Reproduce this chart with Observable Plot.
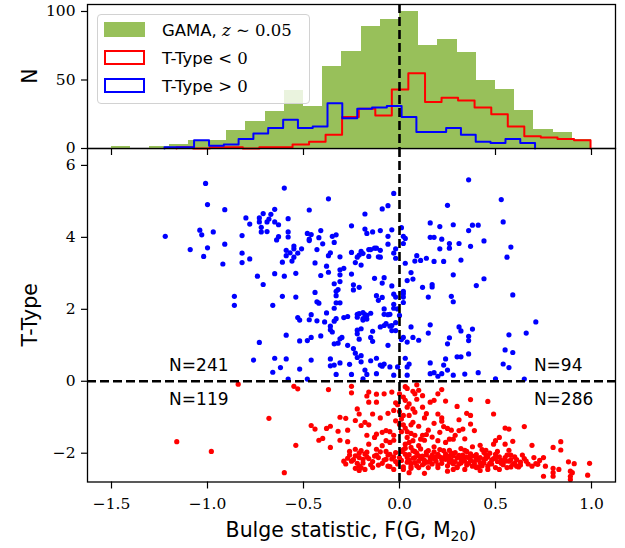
<!DOCTYPE html>
<html><head><meta charset="utf-8">
<script src="https://cdn.jsdelivr.net/npm/d3@7"></script>
<script src="https://cdn.jsdelivr.net/npm/@observablehq/plot@0.6"></script>
<style>
body{margin:0;background:#fff;}
#chart{position:relative;width:625px;height:548px;overflow:hidden;}
#chart svg{position:absolute;left:0;overflow:visible;}
.legend{position:absolute;left:97px;top:14px;width:213px;height:90px;border:1px solid #d2d2d2;border-radius:4px;background:rgba(255,255,255,0.8);box-sizing:border-box;font-family:"DejaVu Sans";font-size:16.5px;color:#000;}
.legend .patch{position:absolute;left:6px;width:41px;height:15px;box-sizing:border-box;}
.legend .lab{position:absolute;left:64px;line-height:20px;white-space:nowrap;}
.legend .m{font-family:"DejaVu Serif";}
.legend .mi{font-family:"DejaVu Serif";font-style:italic;}
</style></head>
<body><div id="chart"></div>
<script>
// ---------------- data ----------------
const xTicks = [-1.5, -1.0, -0.5, 0.0, 0.5, 1.0];
const nTicks = [0, 50, 100];
const tTicks = [-2, 0, 2, 4, 6];

// GAMA histogram (bins of 0.1 from -1.5 to 1.0)
const gamaEdges = [-1.5,-1.4,-1.3,-1.2,-1.1,-1.0,-0.9,-0.8,-0.7,-0.6,-0.5,-0.4,-0.3,-0.2,-0.1,0.0,0.1,0.2,0.3,0.4,0.5,0.6,0.7,0.8,0.9,1.0];
const gamaCounts = [1.2,0,1.2,3,6,6,13.4,19.5,26.8,42,30.9,60.1,71,89.3,94.4,100.2,75.4,79.8,70.3,49.9,43,28,14.1,11.9,6.6];

// T-Type < 0 histogram (25 bins)
const redEdges = [-1.161,-1.075,-0.988,-0.902,-0.816,-0.730,-0.643,-0.557,-0.471,-0.385,-0.299,-0.212,-0.126,-0.040,0.046,0.133,0.219,0.305,0.391,0.478,0.564,0.650,0.736,0.823,0.909,0.995];
const redCounts = [1,0,1,1,0,1,1,3,5,10,23,29,24,43,55,34,37,35,30,25,16,9,8,7,6];

// T-Type > 0 histogram (25 bins)
const blueEdges = [-1.224,-1.147,-1.070,-0.992,-0.915,-0.838,-0.761,-0.684,-0.606,-0.529,-0.452,-0.375,-0.298,-0.220,-0.143,-0.066,0.011,0.088,0.166,0.243,0.320,0.397,0.474,0.552,0.629,0.706];
const blueCounts = [1,1,6,2,3,7,11,15,21,15,16,33,22,29,30,31,23,12,12,15,10,5,4,7,4];

// galaxies with T-Type > 0 : [F(G,M20), T-Type]
const blueGalaxies = [
[-1.01,5.50],[-0.60,5.37],[-0.37,5.07],[-0.03,5.22],[0.36,5.60],[0.53,5.05],[-1.00,4.91],[-0.91,4.77],[-0.65,4.78],[-0.71,4.66],
[-0.67,4.64],[-0.80,4.54],[-0.73,4.54],[-0.68,4.51],[-0.73,4.43],[-0.78,4.37],[-0.69,4.43],[-0.65,4.43],[-0.63,4.35],[-0.58,4.52],
[-0.47,4.76],[-0.18,4.65],[-0.09,4.79],[-0.06,4.88],[0.25,4.89],[0.54,4.43],[0.16,4.40],[0.21,4.30],[0.28,4.35],[0.38,4.34],
[0.41,4.34],[0.36,4.19],[-1.22,4.03],[-1.04,4.20],[-1.03,4.07],[-0.97,4.15],[-0.82,4.05],[-0.72,4.28],[-0.72,4.15],[-0.69,4.16],
[-0.63,4.02],[-0.64,3.93],[-0.58,4.15],[-0.58,4.01],[-0.48,4.11],[-0.46,4.08],[-0.47,3.95],[-0.47,3.91],[-0.41,4.19],[-0.42,3.99],
[-0.35,4.03],[-0.33,4.07],[-0.34,3.86],[-0.40,3.82],[-0.25,4.32],[-0.18,4.23],[-0.17,4.11],[-0.14,4.15],[-0.10,4.19],[-0.04,4.21],
[-0.06,4.03],[-0.06,3.81],[0.01,4.27],[0.02,4.03],[0.03,3.97],[0.02,3.83],[0.16,4.00],[0.18,4.00],[0.22,3.95],[0.26,3.83],
[0.31,3.83],[0.21,3.68],[0.26,3.70],[0.37,3.75],[0.44,3.90],[0.58,3.73],[0.56,3.45],[0.59,2.40],[0.44,2.85],[0.40,2.66],
[-1.09,3.66],[-1.00,3.71],[-1.02,3.47],[-0.91,3.81],[-0.92,3.26],[-0.82,3.56],[-0.82,3.30],[-0.78,3.40],[-0.61,3.31],[-0.59,3.64],
[-0.55,3.76],[-0.55,3.68],[-0.59,3.49],[-0.57,3.57],[-0.56,3.34],[-0.55,3.45],[-0.53,3.56],[-0.51,3.68],[-0.44,3.29],[-0.43,3.66],
[-0.37,3.49],[-0.36,3.57],[-0.31,3.46],[-0.25,3.58],[-0.20,3.61],[-0.22,3.45],[-0.21,3.51],[-0.19,3.55],[-0.16,3.66],[-0.16,3.47],
[-0.15,3.66],[-0.13,3.70],[-0.12,3.70],[-0.11,3.46],[-0.10,3.64],[-0.10,3.45],[-0.03,3.56],[-0.02,3.42],[-0.02,3.68],[0.03,3.28],
[0.09,3.49],[0.08,3.34],[0.11,3.36],[0.14,3.42],[0.18,3.33],[0.23,3.33],[0.32,3.37],[-0.74,2.92],[-0.71,2.69],[-0.65,2.99],
[-0.60,2.92],[-0.54,3.00],[-0.38,3.20],[-0.37,3.03],[-0.41,2.94],[-0.31,2.96],[-0.29,3.14],[-0.31,3.10],[-0.31,2.77],[-0.34,2.71],
[-0.32,2.55],[-0.25,2.98],[-0.23,3.30],[-0.20,3.23],[-0.13,2.86],[-0.08,2.88],[-0.09,2.73],[-0.04,2.65],[0.06,3.02],[0.04,2.80],
[0.07,2.84],[0.12,2.61],[0.17,2.69],[0.28,2.96],[-0.86,2.36],[-0.86,2.11],[-0.66,2.11],[-0.61,2.36],[-0.54,2.34],[-0.44,2.47],
[-0.43,2.21],[-0.42,2.17],[-0.33,2.38],[-0.33,2.50],[-0.33,2.18],[-0.31,2.18],[-0.24,2.68],[-0.24,2.54],[-0.21,2.61],[-0.12,2.38],
[-0.11,2.25],[-0.09,2.33],[-0.03,2.42],[-0.02,2.34],[0.02,2.50],[0.02,2.43],[0.02,2.34],[0.15,2.34],[0.17,2.62],[0.27,2.36],
[0.28,2.21],[0.02,2.19],[-0.46,1.85],[-0.47,1.71],[-0.43,1.68],[-0.53,1.77],[-0.52,1.70],[-0.39,1.65],[-0.38,1.90],[-0.36,1.53],
[-0.33,1.74],[-0.34,1.67],[-0.34,2.03],[-0.29,1.77],[-0.27,1.80],[-0.22,1.86],[-0.21,1.88],[-0.19,1.91],[-0.18,1.85],[-0.17,1.83],
[-0.15,1.89],[-0.19,1.74],[-0.17,1.73],[-0.19,1.70],[-0.22,1.78],[-0.08,2.01],[-0.08,1.86],[-0.06,1.85],[-0.05,1.86],[-0.03,2.03],
[-0.03,2.14],[-0.01,2.01],[0.00,1.83],[-0.07,1.60],[-0.08,1.55],[-0.05,1.53],[-0.04,1.55],[-0.02,1.41],[-0.04,1.41],[-0.02,1.63],
[-0.10,1.51],[-0.14,1.39],[-0.20,1.46],[-0.22,1.42],[-0.22,1.32],[-0.36,1.43],[-0.35,1.37],[-0.31,1.18],[-0.30,1.22],[-0.34,1.04],
[-0.32,1.06],[-0.27,1.00],[-0.24,0.91],[-0.21,1.17],[-0.15,1.22],[-0.14,1.11],[-0.06,1.00],[0.01,1.16],[0.02,1.22],[0.04,1.09],
[0.07,1.22],[0.10,1.14],[0.06,1.51],[0.15,1.34],[0.16,1.57],[0.31,1.51],[0.32,1.40],[0.38,1.45],[0.36,1.25],[0.36,1.13],
[0.26,1.21],[0.25,1.04],[0.57,1.29],[0.66,1.34],[0.71,1.65],[-0.73,1.08],[-0.59,1.28],[-0.52,1.12],[-0.48,1.13],[-0.46,1.22],
[-0.41,1.26],[-0.65,0.64],[-0.62,0.38],[-0.59,0.62],[-0.66,0.25],[-0.52,0.34],[-0.46,0.59],[-0.36,0.62],[-0.36,0.43],[-0.34,0.45],
[-0.31,0.51],[-0.26,0.47],[-0.23,0.78],[-0.22,0.66],[-0.20,0.71],[-0.20,0.54],[-0.15,0.57],[-0.12,0.64],[-0.10,0.45],[-0.09,0.42],
[-0.08,0.48],[-0.05,0.40],[-0.01,0.40],[0.03,0.64],[0.05,0.48],[0.04,0.40],[0.16,0.51],[0.18,0.24],[0.23,0.45],[0.24,0.62],
[0.25,0.31],[0.30,0.68],[0.32,0.68],[0.36,0.76],[0.41,0.24],[0.54,0.48],[0.57,0.38],[0.55,0.87],[0.59,0.80],[0.65,0.06],
[0.50,0.07],[0.34,0.20],[0.28,0.17],[0.20,0.14],[0.22,0.21],[0.16,0.21],[0.04,0.17],[-0.03,0.17],[-0.12,0.21],[-0.17,0.19],
[-0.18,0.31],[-0.25,0.19],[-0.33,0.19],[-0.48,0.06],[-0.58,0.06],[-0.76,0.59],[-0.19,0.07]
];

// galaxies with T-Type < 0 : [F(G,M20), T-Type]
const redGalaxies = [
[-0.84,-0.08],[-0.55,-0.14],[-0.53,-0.21],[-0.37,-0.23],[-0.25,-0.14],[-0.25,-0.32],[-0.17,-0.41],[-0.16,-0.30],[-0.12,-0.36],[-0.08,-0.35],
[-0.04,-0.30],[-0.16,-0.58],[-0.12,-0.58],[0.00,-0.35],[0.02,-0.44],[0.03,-0.53],[0.07,-0.28],[0.08,-0.35],[0.10,-0.25],[0.05,-0.63],
[0.07,-0.77],[0.08,-0.86],[0.12,-0.72],[0.16,-0.58],[0.18,-0.53],[0.22,-0.23],[0.20,-0.35],[0.37,-0.51],[0.46,-0.56],[-0.22,-0.77],
[-0.21,-0.91],[-0.14,-0.91],[-0.10,-1.02],[-0.06,-0.89],[-0.03,-0.81],[0.00,-0.84],[0.02,-0.95],[0.04,-0.72],[0.07,-1.14],[0.20,-0.91],
[0.22,-1.02],[0.22,-1.11],[0.31,-1.07],[0.35,-0.89],[0.37,-0.95],[0.49,-0.91],[-0.68,-1.03],[-0.46,-1.23],[-0.44,-1.33],[-0.38,-1.31],
[-0.36,-1.25],[-0.31,-1.00],[-0.28,-1.03],[-0.27,-1.36],[-0.32,-1.39],[-0.23,-1.09],[-0.20,-1.23],[-0.18,-1.14],[-0.16,-1.21],[-0.17,-1.50],
[-0.13,-1.56],[-0.12,-1.47],[-0.09,-1.42],[-0.07,-1.37],[-0.05,-1.40],[-0.03,-1.50],[0.02,-1.21],[0.03,-1.30],[0.06,-1.21],[0.04,-1.56],
[0.07,-1.65],[0.11,-1.61],[0.15,-1.36],[0.18,-1.17],[0.25,-1.31],[0.23,-1.26],[0.27,-1.36],[0.31,-1.37],[0.33,-1.33],[0.37,-1.19],
[0.39,-1.37],[0.26,-1.61],[0.28,-1.61],[0.20,-1.65],[-1.16,-1.68],[-0.98,-1.95],[-0.54,-1.78],[-0.42,-1.64],[-0.40,-1.59],[-0.36,-1.84],
[-0.31,-1.64],[-0.27,-1.68],[-0.23,-1.89],[-0.20,-1.93],[-0.16,-1.75],[-0.12,-1.89],[-0.09,-1.79],[-0.07,-1.65],[-0.03,-1.64],[0.03,-1.75],
[0.06,-1.84],[0.10,-1.79],[0.13,-1.64],[0.18,-1.82],[0.23,-1.93],[0.26,-1.92],[0.32,-1.87],[0.38,-1.82],[0.42,-1.78],[0.45,-1.92],
[0.49,-1.75],[0.50,-1.65],[0.52,-1.56],[0.55,-1.30],[0.57,-1.33],[0.55,-1.75],[0.57,-1.92],[0.59,-1.67],[0.65,-1.26],[0.69,-1.78],
[0.80,-1.84],[0.84,-1.68],[0.84,-1.91],
[-0.27,-2.14],[-0.29,-2.22],[-0.25,-2.22],[-0.23,-2.07],[-0.21,-2.12],[-0.19,-2.17],[-0.17,-2.10],[-0.14,-2.23],[-0.11,-2.12],[-0.07,-2.17],
[-0.03,-2.10],[-0.02,-2.23],[0.00,-2.12],[0.03,-2.03],[0.05,-2.20],[0.07,-2.14],[0.08,-2.26],[0.10,-2.07],[0.13,-2.20],[0.16,-2.12],
[0.17,-2.05],[0.19,-2.22],[0.21,-2.10],[0.24,-2.17],[0.25,-2.12],[0.28,-2.07],[0.29,-2.23],[0.32,-2.17],[0.34,-2.22],[0.35,-2.10],
[0.37,-2.20],[0.39,-2.23],[0.40,-2.12],[0.42,-2.26],[0.44,-2.17],[0.46,-2.10],[0.48,-2.19],[0.50,-2.03],[0.51,-2.23],[0.53,-2.20],
[0.55,-2.12],[0.57,-2.22],[0.59,-2.31],[0.61,-2.36],[0.62,-2.38],[0.69,-2.36],[0.71,-2.29],[0.72,-2.31],[0.75,-2.12],[0.76,-2.36],
[0.80,-2.42],[0.83,-2.45],[0.88,-2.24],[0.91,-2.29],[0.99,-2.28],[0.75,-2.64],[0.80,-2.54],[0.80,-2.64],[0.89,-2.50],[0.89,-2.64],
[0.90,-2.54],[0.98,-2.61],[0.89,-2.73],[-0.60,-2.54],[0.05,-2.54],[0.13,-2.56],[0.25,-2.50],[0.28,-2.45],[0.34,-2.45],[0.38,-2.36],
[0.42,-2.48],[0.46,-2.45],[0.50,-2.40],[0.52,-2.45],[0.58,-2.38],[-0.21,-2.36],[-0.21,-2.48],[-0.18,-2.45],[-0.06,-2.36],[-0.03,-2.45],
[0.02,-2.45],[0.06,-2.36],
[-0.26,-2.05],[-0.22,-2.28],[-0.18,-2.02],[-0.15,-2.32],[-0.12,-2.05],[-0.09,-2.28],[-0.05,-2.03],[-0.01,-2.30],[0.01,-1.95],[0.04,-2.12],
[0.06,-2.28],[0.09,-2.00],[0.11,-2.15],[0.12,-2.32],[0.14,-2.05],[0.15,-2.25],[0.18,-2.15],[0.20,-2.03],[0.22,-2.28],[0.23,-2.12],
[0.26,-2.25],[0.27,-2.00],[0.30,-2.12],[0.31,-2.30],[0.33,-2.05],[0.36,-2.28],[0.38,-2.08],[0.41,-2.18],[0.43,-2.35],[0.45,-2.05],
[0.47,-2.28],[0.49,-2.15],[0.52,-2.10],[0.54,-2.32],[0.56,-2.05],[0.58,-2.18],[0.60,-2.10],[0.63,-2.25],[0.65,-2.15],[0.67,-2.30],
[0.02,-1.90],[0.08,-1.95],[-0.20,-2.40],[0.10,-2.40],[0.20,-2.40],[0.30,-2.38],[0.40,-2.40],[0.44,-1.98],[0.35,-1.95],[0.15,-1.93],
[-0.07,-1.95],[0.05,-1.70],[0.12,-1.50],[0.00,-1.20],[0.05,-0.95],[-0.02,-0.60],[0.03,-0.15],[0.09,-0.10],[0.01,-1.40],[0.06,-1.45],
[-0.28,-2.30],[-0.26,-1.95],[-0.24,-2.18],[-0.23,-2.42],[-0.21,-2.00],[-0.19,-2.27],[-0.17,-1.97],[-0.16,-2.15],[-0.14,-2.40],[-0.13,-2.08],
[-0.11,-2.33],[-0.10,-1.96],[-0.08,-2.19],[-0.06,-2.05],[-0.05,-2.37],[-0.04,-2.16],[-0.02,-1.98],[0.01,-2.20],[0.02,-2.38],[0.03,-1.86],
[0.04,-2.25],[0.05,-2.04],[0.06,-2.42],[0.07,-1.93],[0.08,-2.12],[0.09,-2.35],[0.10,-2.22],[0.11,-1.88],[0.12,-2.08],[0.13,-2.28],
[0.14,-1.97],[0.15,-2.40],[0.16,-2.20],[0.17,-2.30],[0.18,-1.96],[0.19,-2.10],[0.20,-2.32],[0.21,-1.90],[0.22,-2.18],[0.24,-2.02],
[0.25,-2.35],[0.26,-2.08],[0.27,-2.19],[0.28,-2.29],[0.29,-1.98],[0.30,-2.40],[0.31,-2.06],[0.32,-2.27],[0.33,-2.15],[0.34,-1.92],
[0.35,-2.33],[0.36,-2.12],[0.37,-2.02],[0.39,-2.30],[0.40,-2.04],[0.41,-2.38],[0.42,-2.12],[0.43,-1.90],[0.44,-2.27],[0.45,-2.15],
[0.46,-2.36],[0.47,-2.00],[0.48,-2.30],[0.50,-2.12],[0.51,-1.95],[0.53,-2.28],[0.55,-2.22],[0.56,-2.40],[0.58,-2.05],[0.60,-2.28],
[0.61,-2.18],[0.63,-2.33],[0.64,-2.05],[0.66,-2.22],[0.70,-2.12],[0.73,-2.20],
[0.01,-1.05],[0.04,-1.40],[0.08,-1.50],[0.10,-1.25],[0.13,-1.02],[0.14,-1.48],[0.17,-1.55],[0.21,-1.42],[0.24,-1.70],[-0.02,-1.10],
[-0.05,-1.70],[0.09,-0.50],[0.12,-0.40],[0.04,-0.20],[-0.01,-0.65],[0.29,-1.50],[0.34,-1.60],[0.30,-0.70],[0.14,-0.90],[0.24,-0.55]
];

// quadrant counts
const quadX = [-1.2, -1.2, 0.7, 0.7];
const quadT = [0.28, -0.67, 0.28, -0.67];
const quadText = ["N=241", "N=119", "N=94", "N=286"];

// ---------------- drawing ----------------
const GREEN = "#98c05a", RED = "#ff0000", BLUE = "#0000ff";
const xDomain = [-1.625, 1.125];
const dash = {stroke: "black", strokeWidth: 2.6, strokeDasharray: "9,4"};
const tickFont = {fontFamily: "DejaVu Serif", fontSize: 15.5};
const LABEL_SIZE = 20.5;

const gamaBins = gamaCounts.map((n, i) => ({x1: gamaEdges[i], x2: gamaEdges[i + 1], n}));
function stepPoints(edges, counts) {
  const pts = [{x: edges[0], y: 0}];
  counts.forEach((c, i) => pts.push({x: edges[i], y: c}));
  pts.push({x: edges[edges.length - 1], y: 0});
  return pts;
}
const quads = quadText.map((t, i) => ({x: quadX[i], y: quadT[i], t}));

const topPlot = Plot.plot({
  width: 625, height: 160,
  marginLeft: 87, marginRight: 10, marginTop: 4, marginBottom: 12,
  style: {background: "transparent", overflow: "visible", fontFamily: "DejaVu Serif", fontSize: "15.5px", color: "black"},
  x: {domain: xDomain},
  y: {domain: [0, 105.1]},
  marks: [
    Plot.rect(gamaBins, {x1: "x1", x2: "x2", y1: 0, y2: "n", fill: GREEN, shapeRendering: "crispEdges"}),
    Plot.line(stepPoints(redEdges, redCounts), {x: "x", y: "y", curve: "step-after", stroke: RED, strokeWidth: 2}),
    Plot.line(stepPoints(blueEdges, blueCounts), {x: "x", y: "y", curve: "step-after", stroke: BLUE, strokeWidth: 2}),
    Plot.ruleX([0], dash),
    Plot.frame({stroke: "black", strokeWidth: 1.3}),
    Plot.axisY({ticks: nTicks, tickSize: 6, tickPadding: 6, label: null, strokeWidth: 1.2, ...tickFont}),
    Plot.axisX({ticks: xTicks, tickSize: 7, tickFormat: () => "", label: null, strokeWidth: 1.2})
  ]
});

const botPlot = Plot.plot({
  width: 625, height: 408,
  marginLeft: 87, marginRight: 10, marginTop: 8, marginBottom: 66.5,
  style: {background: "transparent", overflow: "visible", fontFamily: "DejaVu Serif", fontSize: "15.5px", color: "black"},
  x: {domain: xDomain},
  y: {domain: [-2.80, 6.47]},
  marks: [
    Plot.dot(blueGalaxies, {x: d => d[0], y: d => d[1], r: 2.6, fill: BLUE, stroke: "none"}),
    Plot.dot(redGalaxies, {x: d => d[0], y: d => d[1], r: 2.6, fill: RED, stroke: "none"}),
    Plot.ruleX([0], dash),
    Plot.ruleY([0], dash),
    Plot.text(quads, {x: "x", y: "y", text: "t", textAnchor: "start", lineAnchor: "bottom", fontFamily: "DejaVu Sans", fontSize: 17, fill: "black"}),
    Plot.frame({stroke: "black", strokeWidth: 1.3}),
    Plot.axisY({ticks: tTicks, tickSize: 6, tickPadding: 6, label: null, strokeWidth: 1.2, tickFormat: d3.format("d"), ...tickFont}),
    Plot.axisX({ticks: xTicks, tickSize: 7, tickPadding: 9, label: null, strokeWidth: 1.2, tickFormat: d3.format(".1f"), ...tickFont})
  ]
});

const chart = document.getElementById("chart");
botPlot.style.top = "140px";
topPlot.style.top = "0px";
chart.appendChild(botPlot);
chart.appendChild(topPlot);

// axis titles
const ts = d3.select(topPlot);
ts.append("text").attr("transform", "translate(37,76) rotate(-90)")
  .attr("text-anchor", "middle").attr("font-family", "DejaVu Sans").attr("font-size", LABEL_SIZE).text("N");
const bs = d3.select(botPlot);
bs.append("text").attr("transform", "translate(37,174.75) rotate(-90)")
  .attr("text-anchor", "middle").attr("font-family", "DejaVu Sans").attr("font-size", LABEL_SIZE).text("T-Type");
const xl = bs.append("text").attr("x", 351).attr("y", 397).attr("text-anchor", "middle")
  .attr("font-family", "DejaVu Sans").attr("font-size", LABEL_SIZE);
xl.append("tspan").text("Bulge statistic, F(G, M");
xl.append("tspan").attr("font-size", 14).attr("dy", 4).text("20");
xl.append("tspan").attr("dy", -4).text(")");

// legend
const legend = d3.select(chart).append("div").attr("class", "legend");
const rows = [
  {patch: `background:${GREEN};`, html: `GAMA, <span class="mi">z</span><span class="m"> ∼ 0.05</span>`},
  {patch: `border:2px solid ${RED};background:#fff;`, html: `T-Type <span class="m">&lt; 0</span>`},
  {patch: `border:2px solid ${BLUE};background:#fff;`, html: `T-Type <span class="m">&gt; 0</span>`}
];
rows.forEach((r, i) => {
  legend.append("div").attr("class", "patch").attr("style", r.patch + `top:${7 + 28 * i}px;`);
  legend.append("div").attr("class", "lab").attr("style", `top:${6 + 28 * i}px;`).html(r.html);
});
</script>
</body></html>
